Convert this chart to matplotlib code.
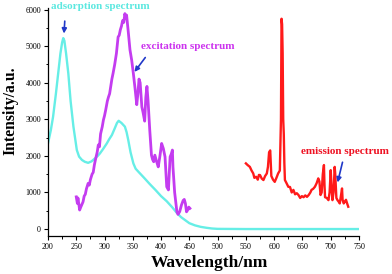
import matplotlib
matplotlib.use("Agg")
import matplotlib.pyplot as plt
from matplotlib.ticker import MultipleLocator

plt.rcParams['font.family'] = ['Liberation Serif', 'DejaVu Serif']

# Adsorption spectrum
abs_x = [200, 205, 209, 214, 218, 222, 225, 227, 229, 232, 236, 240, 245, 251, 255, 260, 265, 271,
         277, 283, 288, 292, 298, 304, 308, 313, 318, 322, 325, 330, 336, 339, 342, 346, 351, 355,
         360, 370, 380, 390, 400, 410, 420, 428, 435, 442, 450, 460, 470, 480, 490, 500, 550, 600,
         650, 700, 750]
abs_y = [2340, 2700, 3070, 3700, 4250, 4800, 5100, 5220, 5150, 4800, 4250, 3500, 2800, 2160, 1980,
         1890, 1840, 1810, 1850, 1930, 2000, 2070, 2200, 2340, 2450, 2570, 2750, 2900, 2960, 2900,
         2800, 2650, 2430, 2100, 1795, 1650, 1565, 1400, 1230, 1070, 900, 760, 590, 440, 330, 250,
         160, 100, 60, 35, 15, 5, 0, 0, 0, 0, 0]

# Excitation spectrum
exc_x = [250, 252, 253, 256, 258, 262, 264, 266, 268, 271, 273, 275, 278, 280, 282, 284, 287, 289,
         291, 293, 296, 298, 300, 302, 305, 307, 309, 311, 313, 315, 318, 321, 324, 326, 328, 330,
         332, 334, 336, 338, 339, 342, 345, 348, 351, 354, 357, 359, 361, 363, 366, 368, 371, 373,
         375, 377, 380, 383, 385, 387, 389, 392, 395, 398, 401, 404, 407, 410, 413, 416, 418, 420,
         421, 424, 428, 430, 433, 436, 439, 441, 443, 445, 447, 449, 451]
exc_y = [880, 700, 850, 520, 600, 745, 900, 950, 1100, 1250, 1200, 1350, 1500, 1550, 1750, 1900,
         2100, 2300, 2250, 2600, 2800, 2980, 3100, 3250, 3500, 3610, 3700, 3900, 4100, 4250, 4500,
         4800, 5250, 5300, 5450, 5550, 5700, 5650, 5890, 5750, 5850, 5390, 4900, 4620, 4250, 3840,
         3400, 3700, 4100, 4000, 3340, 3200, 2950, 3600, 3900, 3500, 2700, 2020, 1900, 1840, 2020,
         1850, 1700, 2000, 2340, 2200, 1975, 1155, 1070, 1975, 2050, 2160, 1700, 1000, 470, 400,
         480, 655, 780, 810, 700, 470, 520, 600, 565]

# Emission spectrum
emi_x = [550, 553, 557, 560, 563, 565, 568, 571, 573, 575, 578, 581, 584, 587, 589, 591, 593, 595,
         598, 601, 604, 607, 610, 612, 613, 614, 615, 616, 617, 618, 619, 622, 625, 628, 631, 634,
         637, 640, 643, 646, 649, 652, 655, 658, 661, 664, 666, 669, 672, 675, 678, 680, 682, 684,
         686, 688, 689, 690, 693, 696, 698, 700, 701, 703, 705, 707, 708, 710, 712, 714, 716, 718,
         720, 721, 723, 725, 727, 729, 731]
emi_y = [1795, 1750, 1700, 1600, 1520, 1400, 1430, 1350, 1480, 1475, 1380, 1340, 1450, 1520, 1700,
         2100, 2150, 1450, 1350, 1290, 1400, 1520, 1600, 3000, 5750, 5600, 4800, 3000, 2600, 1800,
         1340, 1250, 1155, 1150, 1000, 1070, 950, 980, 930, 850, 900, 870, 920, 880, 930, 1000,
         1070, 1100, 1155, 1250, 1385, 1300, 930, 1000, 1500, 1750, 1200, 870, 850, 790, 1000,
         1610, 1300, 790, 1000, 1700, 1500, 850, 790, 750, 700, 900, 1110, 800, 700, 750, 800,
         700, 610]

fig = plt.figure(figsize=(3.92, 2.74), dpi=100)
ax = fig.add_axes([0.1224, 0.1387, 0.7934, 0.8303])

ax.plot(abs_x, abs_y, color='#66EEE6', lw=1.7, solid_joinstyle='round')
ax.plot(exc_x, exc_y, color='#C43CF0', lw=2.0, solid_joinstyle='round')
ax.plot(emi_x, emi_y, color='#FF1A1A', lw=1.7, solid_joinstyle='round')

ax.set_xlim(200, 750)
ax.set_ylim(-190, 6030)
ax.xaxis.set_major_locator(MultipleLocator(50))
ax.xaxis.set_minor_locator(MultipleLocator(25))
ax.yaxis.set_major_locator(MultipleLocator(1000))
ax.yaxis.set_minor_locator(MultipleLocator(500))
ax.tick_params(which='major', direction='out', length=3, width=0.8, labelsize=5.8, pad=2)
ax.tick_params(which='minor', direction='out', length=1.8, width=0.7)
for s in ['top', 'right']:
    ax.spines[s].set_visible(False)
for s in ['left', 'bottom']:
    ax.spines[s].set_linewidth(0.9)

ax.set_xlabel('Wavelength/nm', fontsize=12.5, fontweight='bold')
ax.xaxis.set_label_coords(0.52, -0.085)
ax.set_ylabel('Intensity/a.u.', fontsize=11.3, fontweight='bold')
ax.yaxis.set_label_coords(-0.095, 0.55)

arrow_kw = dict(arrowstyle='-|>', color='#2038C8', lw=1.2, mutation_scale=7)

ax.text(292, 6090, 'adsorption spectrum', color='#5CE8E0', fontsize=8, fontweight='bold',
        ha='center', va='center', clip_on=False)
ax.annotate('', xy=(228, 5270), xytext=(230, 5760), arrowprops=arrow_kw, annotation_clip=False)

ax.text(448, 5000, 'excitation spectrum', color='#CC33EE', fontsize=8, fontweight='bold',
        ha='center', va='center')
ax.annotate('', xy=(350, 4235), xytext=(375, 4750), arrowprops=arrow_kw)

ax.text(725, 2110, 'emission spectrum', color='#EE1122', fontsize=8, fontweight='bold',
        ha='center', va='center', clip_on=False)
ax.annotate('', xy=(711, 1200), xytext=(722, 1900), arrowprops=arrow_kw)

fig.savefig('out.png', dpi=100)
